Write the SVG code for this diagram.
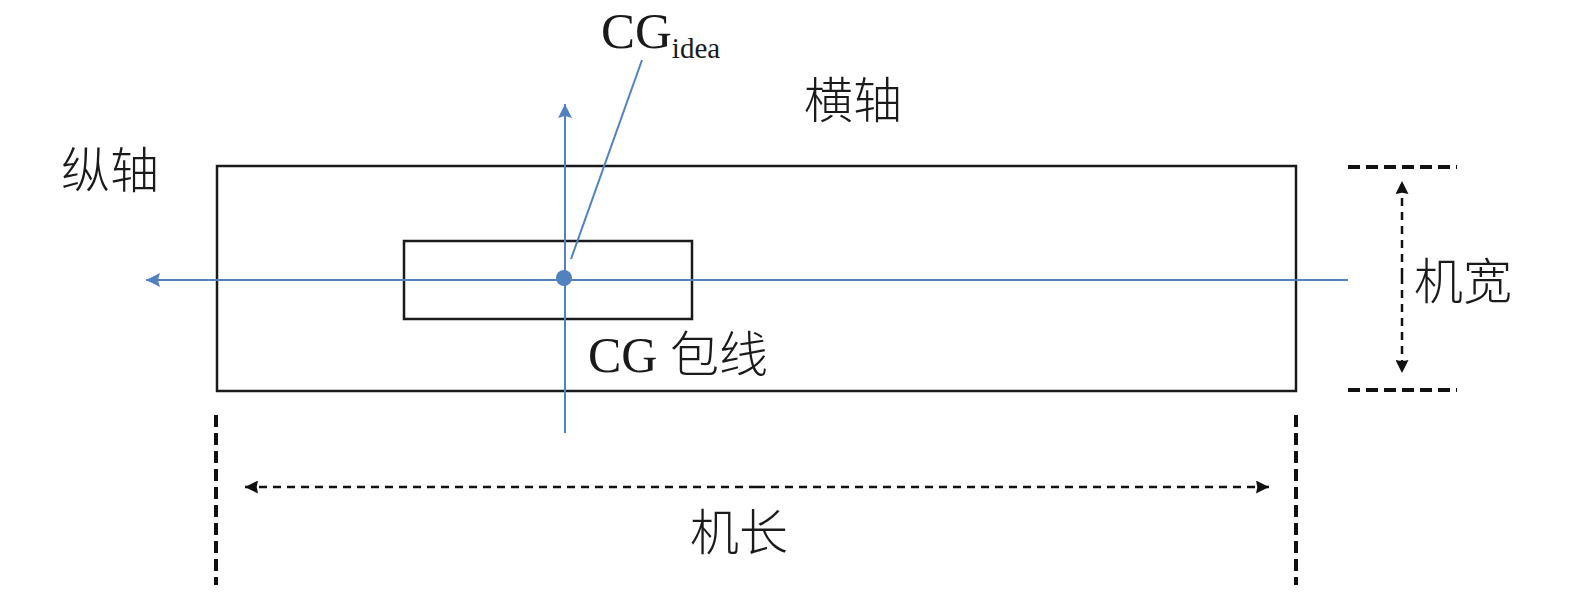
<svg xmlns="http://www.w3.org/2000/svg" width="1575" height="593" viewBox="0 0 1575 593">
<style>
.box{fill:none;stroke:#1a1a1a;stroke-width:2.5}
.ax{stroke:#5182bf;stroke-width:2;fill:none}
.dim{stroke:#111;stroke-width:4;stroke-dasharray:12 6;fill:none}
.dimarr{stroke:#111;stroke-width:2.5;stroke-dasharray:8 6;fill:none}
.zh{font-family:"Noto Sans CJK SC",sans-serif;font-size:49px;fill:#1a1a1a;font-weight:300}
.lat{font-family:"Liberation Serif",serif;fill:#1a1a1a}
</style>
<defs>
<marker id="ka" viewBox="0 0 10 10" refX="10" refY="5" markerWidth="15" markerHeight="13" markerUnits="userSpaceOnUse" orient="auto">
<path d="M0,0 L10,5 L0,10 L1,5 Z" fill="#111"/>
</marker>
<marker id="bh" viewBox="0 0 10 10" refX="10" refY="5" markerWidth="16" markerHeight="14" markerUnits="userSpaceOnUse" orient="auto">
<path d="M0,0 L10,5 L0,10 L1.5,5 Z" fill="#5182bf"/>
</marker>
</defs>
<g id="aircraft"><rect class="box" x="217" y="166" width="1079" height="225"/></g>
<g id="cg-envelope"><rect class="box" x="404" y="241" width="288" height="78"/></g>
<g id="connectors">
<line class="ax" x1="1348" y1="280" x2="146" y2="280" marker-end="url(#bh)"/>
<line class="ax" x1="565" y1="433" x2="565" y2="104" marker-end="url(#bh)"/>
<line class="ax" x1="642" y1="60" x2="571" y2="259"/>
<line class="dim" x1="1348" y1="167" x2="1457" y2="167"/>
<line class="dim" x1="1348" y1="390" x2="1457" y2="390"/>
<line class="dimarr" x1="1402" y1="276" x2="1402" y2="181" marker-end="url(#ka)"/>
<line class="dimarr" x1="1402" y1="276" x2="1402" y2="373" marker-end="url(#ka)"/>
<line class="dim" x1="216" y1="415" x2="216" y2="585"/>
<line class="dim" x1="1296" y1="415" x2="1296" y2="585"/>
<line class="dimarr" x1="757" y1="487" x2="245" y2="487" marker-end="url(#ka)"/>
<line class="dimarr" x1="757" y1="487" x2="1269" y2="487" marker-end="url(#ka)"/>
</g>
<g id="cg-ideal">
<circle cx="564" cy="278" r="8" fill="#5182bf"/>
<text class="lat" x="601" y="48" font-size="51">CG<tspan font-size="29" dy="10">idea</tspan></text>
</g>
<g id="labels">
<text class="zh" x="804" y="118">横轴</text>
<text class="zh" x="61" y="188">纵轴</text>
<text x="588" y="372"><tspan class="lat" font-size="50">CG </tspan><tspan class="zh">包线</tspan></text>
<text class="zh" x="1414" y="299">机宽</text>
<text class="zh" x="690" y="550">机长</text>
</g>
</svg>
